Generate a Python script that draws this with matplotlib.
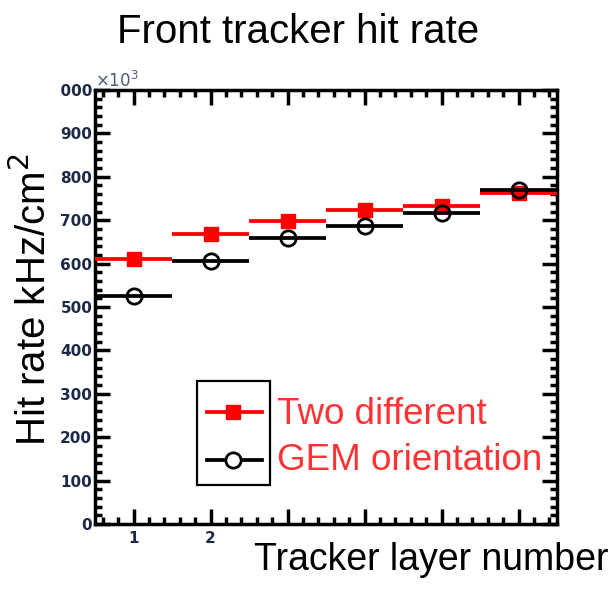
import matplotlib
matplotlib.use("Agg")
import matplotlib.pyplot as plt
from matplotlib.patches import Rectangle
from matplotlib.lines import Line2D
from matplotlib.ticker import MultipleLocator, FixedLocator


# data (axis is 0..1000, scaled by x10^3)
layers = [1, 2, 3, 4, 5, 6]
rate_two_orient = [610, 668, 698, 723, 733, 763]
rate_gem = [525, 606, 659, 687, 717, 770]
xtick_labels = ["1", "2", "", "", "", ""]

red = "#ff0000"
txt_red = "#ff3333"
tick_col = "#1c2a48"

plt.rcParams['font.family'] = ['Liberation Sans', 'DejaVu Sans']

fig = plt.figure(figsize=(6.15, 5.89), dpi=100)
ax = fig.add_axes([95/615, 65/589, 462/615, 434/589])

# red series below, black series on top
ax.errorbar(layers, rate_two_orient, xerr=0.5, fmt='s', color=red, ms=10,
            elinewidth=2.7, capsize=0, zorder=3)
ax.errorbar(layers, rate_gem, xerr=0.5, fmt='o', color='black', mfc='none',
            mew=2, ms=11, elinewidth=2.7, capsize=0, zorder=4)

ax.set_xlim(0.5, 6.5)
ax.set_ylim(0, 1000)

ax.xaxis.set_major_locator(FixedLocator(layers))
ax.set_xticklabels(xtick_labels)
ax.xaxis.set_minor_locator(MultipleLocator(0.2))
ax.yaxis.set_major_locator(MultipleLocator(100))
ax.yaxis.set_minor_locator(MultipleLocator(20))

ax.tick_params(which='both', direction='in', top=True, right=True,
               width=2.5, colors='black')
ax.tick_params(which='major', length=11)
ax.tick_params(which='minor', length=5)
ax.tick_params(axis='both', labelcolor=tick_col, labelsize=11)
ax.tick_params(axis='y', pad=2)
ax.tick_params(axis='x', pad=5)
for lab in ax.get_xticklabels() + ax.get_yticklabels():
    lab.set_fontweight('bold')
    lab.set_family('DejaVu Sans')
for s in ax.spines.values():
    s.set_linewidth(2.5)

ax.text(0.0, 1.0, r"$\times10^{3}$", transform=ax.transAxes, fontsize=12,
        color="#4a5a7a", ha='left', va='bottom')

# legend box (markers only), labels sit outside the box
ax.add_patch(Rectangle((0.2208, 0.0899), 0.158, 0.2396, transform=ax.transAxes,
                       facecolor='white', edgecolor='black', lw=1.6, zorder=5))
ax.add_line(Line2D([0.2424, 0.3615], [0.258, 0.258], transform=ax.transAxes,
                   color=red, lw=2.7, zorder=6))
ax.add_line(Line2D([0.2987], [0.258], transform=ax.transAxes, color=red,
                   marker='s', ms=10, zorder=7))
ax.add_line(Line2D([0.2424, 0.3615], [0.1475, 0.1475], transform=ax.transAxes,
                   color='black', lw=2.7, zorder=6))
ax.add_line(Line2D([0.2987], [0.1475], transform=ax.transAxes, color='black',
                   marker='o', mfc='white', mew=2, ms=11, zorder=7))

fig.text(277/615, 1 - 415/589, "Two different", color=txt_red, fontsize=26.5,
         ha='left', va='center')
fig.text(277/615, 1 - 460/589, "GEM orientation", color=txt_red, fontsize=26.5,
         ha='left', va='center')

# left part of the tick labels is cut away in the original picture
fig.patches.append(Rectangle((0, 0), 61/615, 1, transform=fig.transFigure,
                             facecolor='white', edgecolor='none', zorder=5))

fig.text(298/615, 1 - 43/589, "Front tracker hit rate", fontsize=29,
         ha='center', va='baseline', zorder=6)
fig.text(33/615, 1 - 300/589, "Hit rate kHz/cm$^{2}$", fontsize=29,
         rotation=90, ha='center', va='center', zorder=6)
fig.text(431/615, 1 - 570/589, "Tracker layer number", fontsize=27,
         ha='center', va='baseline', zorder=6)

fig.savefig("out.png", dpi=100)
